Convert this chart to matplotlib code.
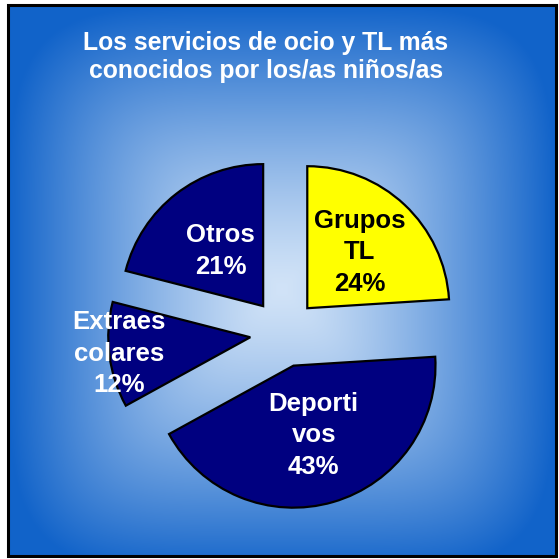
"""Pie chart: servicios de ocio y TL más conocidos."""

import matplotlib.pyplot as plt
import numpy as np
from matplotlib.patches import Rectangle

# data
labels = ["Grupos\nTL", "Deporti\nvos", "Extraes\ncolares", "Otros"]
values = [24, 43, 12, 21]
title = "Los servicios de ocio y TL más\nconocidos por los/as niños/as"

# style
colors = ["#FFFF00", "#000080", "#000080", "#000080"]
text_colors = ["black", "white", "white", "white"]
label_dist = [0.78, 0.75, 1.17, 0.73]

W = H = 559
fig = plt.figure(figsize=(W / 100, H / 100), dpi=100)
ax = fig.add_axes([0, 0, 1, 1])

# rectangular "from centre" gradient background
x0, x1, y0, y1 = 8, 556, 3, 554
cx, cy = 282, 270
xx, yy = np.meshgrid(np.linspace(x0, x1, 500), np.linspace(y0, y1, 500))
dx = np.abs(xx - cx) / (x1 - cx)
dy = np.abs(yy - cy) / (y1 - cy)
t = (dx ** 5 + dy ** 5) ** (1 / 5)
t = np.clip(t, 0, 1) ** 1.3
c_in = np.array([0.82, 0.89, 0.97])
c_out = np.array([0.07, 0.39, 0.79])
img = c_in[None, None, :] * (1 - t[..., None]) + c_out[None, None, :] * t[..., None]
ax.imshow(img, extent=[x0, x1, y0, y1], origin="lower", zorder=0, aspect="auto")
ax.add_patch(Rectangle((x0, y0), x1 - x0, y1 - y0, fill=False, ec="black", lw=2.2, zorder=5))

# pie
centre = (284, H - 333)
radius = 142
explode = 34
wedges, _ = ax.pie(
    values,
    colors=colors,
    startangle=90,
    counterclock=False,
    explode=[explode] * 4,
    radius=radius,
    center=centre,
    wedgeprops=dict(edgecolor="black", linewidth=1.6),
    frame=True,
)
ax.set_xlim(0, W)
ax.set_ylim(0, H)
ax.axis("off")

for w, lab, v, tc, d in zip(wedges, labels, values, text_colors, label_dist):
    mid = np.deg2rad((w.theta1 + w.theta2) / 2)
    x = centre[0] + d * radius * np.cos(mid)
    y = centre[1] + d * radius * np.sin(mid)
    ax.text(x, y, f"{lab}\n{v}%", ha="center", va="center", color=tc,
            fontsize=18.5, fontweight="bold", family="Liberation Sans",
            linespacing=1.4, zorder=6)

ax.text(266, H - 57, title, ha="center", va="center", color="white",
        fontsize=17.8, fontweight="bold", family="Liberation Sans",
        linespacing=1.25, zorder=6)

fig.savefig("out.png", dpi=100)
